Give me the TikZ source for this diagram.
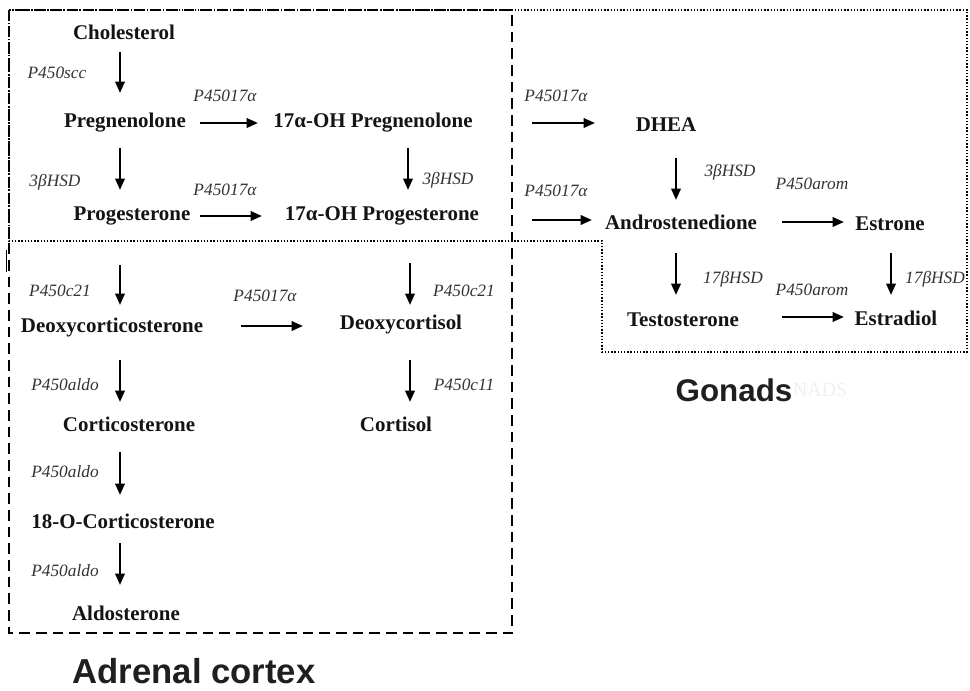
\documentclass[tikz,border=0pt]{standalone}
\usepackage{fontspec}
\setmainfont{Liberation Serif}
\newfontfamily\labsans{Liberation Sans}
\usetikzlibrary{arrows.meta,calc}
\begin{document}
\begin{tikzpicture}[x=0.75pt,y=-0.75pt,
 chem/.style={inner sep=0pt, font=\fontsize{15.7}{18}\selectfont\bfseries, text=black!92},
 enz/.style={inner sep=0pt, font=\fontsize{13}{15}\selectfont\itshape, text=black!80},
 arr/.style={line width=1.7pt, -{Triangle[length=8.5pt,width=7pt]}},
 region/.style={inner sep=0pt, font=\labsans\bfseries\fontsize{26}{30}\selectfont, text=black!88},
 adrbox/.style={line width=1.9pt, dash pattern=on 8pt off 4.5pt},
 gonbox/.style={line width=1.1pt, dash pattern=on 1.1pt off 1.3pt}]
\fill[white] (0,0) rectangle (970,691);
\useasboundingbox (0,0) rectangle (970,691);

% region borders
\draw[gonbox] (9,10) -- (967,10) -- (967,352) -- (602,352) -- (602,241) -- (9,241) -- cycle;
\draw[adrbox] (9,10) rectangle (512,633);
\draw[line width=0.6pt] (6,250) -- (6,272);

% compounds
\node[chem] (chol) at (124,32) {Cholesterol};
\node[chem] (preg) at (125,123) {Pregnenolone};
\node[chem] (ohpreg) at (373,123) {17α-OH Pregnenolone};
\node[chem] (prog) at (132,216) {Progesterone};
\node[chem] (ohprog) at (382,216) {17α-OH Progesterone};
\node[chem] (dhea) at (666,125) {DHEA};
\node[chem] (andro) at (681,222) {Androstenedione};
\node[chem] (estrone) at (890,224) {Estrone};
\node[chem] (testo) at (683,320) {Testosterone};
\node[chem] (estradiol) at (896,318) {Estradiol};
\node[chem] (doc) at (112,327) {Deoxycorticosterone};
\node[chem] (docort) at (401,324) {Deoxycortisol};
\node[chem] (cortico) at (129,424) {Corticosterone};
\node[chem] (cortisol) at (396,424) {Cortisol};
\node[chem] (oco) at (123,521) {18-O-Corticosterone};
\node[chem] (aldo) at (126,613) {Aldosterone};

% enzymes
\node[enz] (e1) at (57,73) {P450scc};
\node[enz] (e2) at (225,96) {P45017α};
\node[enz] (e3) at (55,182) {3βHSD};
\node[enz] (e4) at (448,180) {3βHSD};
\node[enz] (e5) at (225,190) {P45017α};
\node[enz] (e6) at (556,96) {P45017α};
\node[enz] (e7) at (556,191) {P45017α};
\node[enz] (e8) at (730,172) {3βHSD};
\node[enz] (e9) at (812,184) {P450arom};
\node[enz] (e10) at (733,279) {17βHSD};
\node[enz] (e11) at (812,290) {P450arom};
\node[enz] (e12) at (935,279) {17βHSD};
\node[enz] (e13) at (60,291) {P450c21};
\node[enz] (e14) at (265,296) {P45017α};
\node[enz] (e15) at (464,291) {P450c21};
\node[enz] (e16) at (65,385) {P450aldo};
\node[enz] (e17) at (464,385) {P450c11};
\node[enz] (e18) at (65,472) {P450aldo};
\node[enz] (e19) at (65,571) {P450aldo};

% region labels
\node[region] (adr) at (194,671) {Adrenal cortex};
\node[region, font=\labsans\bfseries\fontsize{23.5}{28}\selectfont] (gon) at (734,390) {Gonads};
\node[inner sep=0pt, font=\fontsize{15}{18}\selectfont, text=black!6, anchor=west] (ghost) at (gon.east) {NADS};

% reactions
\draw[arr] ([shift={(-4,20)}]chol.center) -- ([shift={(-5,-30)}]preg.center);
\draw[arr] ([shift={(75,0)}]preg.center) -- ([shift={(-115,0)}]ohpreg.center);
\draw[arr] ([shift={(-5,25)}]preg.center) -- ([shift={(-12,-26)}]prog.center);
\draw[arr] ([shift={(35,25)}]ohpreg.center) -- ([shift={(26,-26)}]ohprog.center);
\draw[arr] ([shift={(68,0)}]prog.center) -- ([shift={(-120,0)}]ohprog.center);
\draw[arr] ([shift={(159,0)}]ohpreg.center) -- ([shift={(-71,-2)}]dhea.center);
\draw[arr] ([shift={(150,4)}]ohprog.center) -- ([shift={(-89,-2)}]andro.center);
\draw[arr] ([shift={(10,33)}]dhea.center) -- ([shift={(-5,-22)}]andro.center);
\draw[arr] ([shift={(101,0)}]andro.center) -- ([shift={(-46,-2)}]estrone.center);
\draw[arr] ([shift={(-5,31)}]andro.center) -- ([shift={(-7,-25)}]testo.center);
\draw[arr] ([shift={(1,29)}]estrone.center) -- ([shift={(-5,-23)}]estradiol.center);
\draw[arr] ([shift={(99,-3)}]testo.center) -- ([shift={(-52,-1)}]estradiol.center);
\draw[arr] ([shift={(-12,49)}]prog.center) -- ([shift={(8,-22)}]doc.center);
\draw[arr] ([shift={(28,47)}]ohprog.center) -- ([shift={(9,-19)}]docort.center);
\draw[arr] ([shift={(129,-1)}]doc.center) -- ([shift={(-98,2)}]docort.center);
\draw[arr] ([shift={(8,33)}]doc.center) -- ([shift={(-9,-22)}]cortico.center);
\draw[arr] ([shift={(9,36)}]docort.center) -- ([shift={(14,-22)}]cortisol.center);
\draw[arr] ([shift={(-9,28)}]cortico.center) -- ([shift={(-3,-26)}]oco.center);
\draw[arr] ([shift={(-3,22)}]oco.center) -- ([shift={(-6,-28)}]aldo.center);
\end{tikzpicture}
\end{document}
